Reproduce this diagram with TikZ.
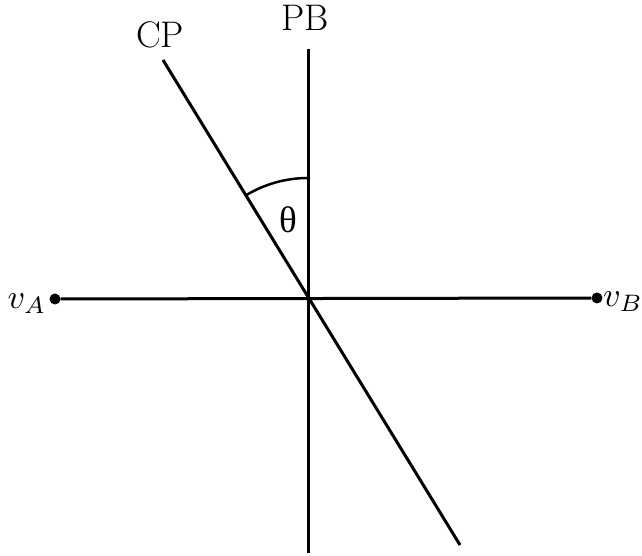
\documentclass[tikz,border=0pt]{standalone}
\usepackage{fontspec}
\newfontfamily\grk{Liberation Serif}
\begin{document}
\begin{tikzpicture}[x=1pt,y=1pt,
  ln/.style={line width=3pt},
  lbl/.style={inner sep=0pt,font=\fontsize{37}{42}\selectfont},
  mlbl/.style={inner sep=0pt,scale=3.4},
  dotn/.style={circle,fill=black,inner sep=0pt,minimum size=11pt}]
\useasboundingbox (0,0) rectangle (642,556);
\coordinate (O) at (308,258);
\node[dotn] (A) at (55,257) {};
\node[dotn] (B) at (597,258) {};
\coordinate (PBt) at (308,507);
\coordinate (PBb) at (308,3);
\coordinate (CPt) at (163,496);
\coordinate (CPb) at (460,11);
\draw[ln] (A) -- (B);
\draw[ln] (PBt) -- (PBb);
\draw[ln] (CPt) -- (CPb);
\draw[line width=2.5pt] (O) ++(90:120) arc (90:121.4:120);
\node[lbl] (cp) at (160,521) {CP};
\node[lbl] (pb) at (305,538) {PB};
\node[lbl] (th) at (288,336) {\grk θ};
\node[mlbl] (va) at (27,252) {$v_A$};
\node[mlbl] (vb) at (623,254) {$v_B$};
\end{tikzpicture}
\end{document}
